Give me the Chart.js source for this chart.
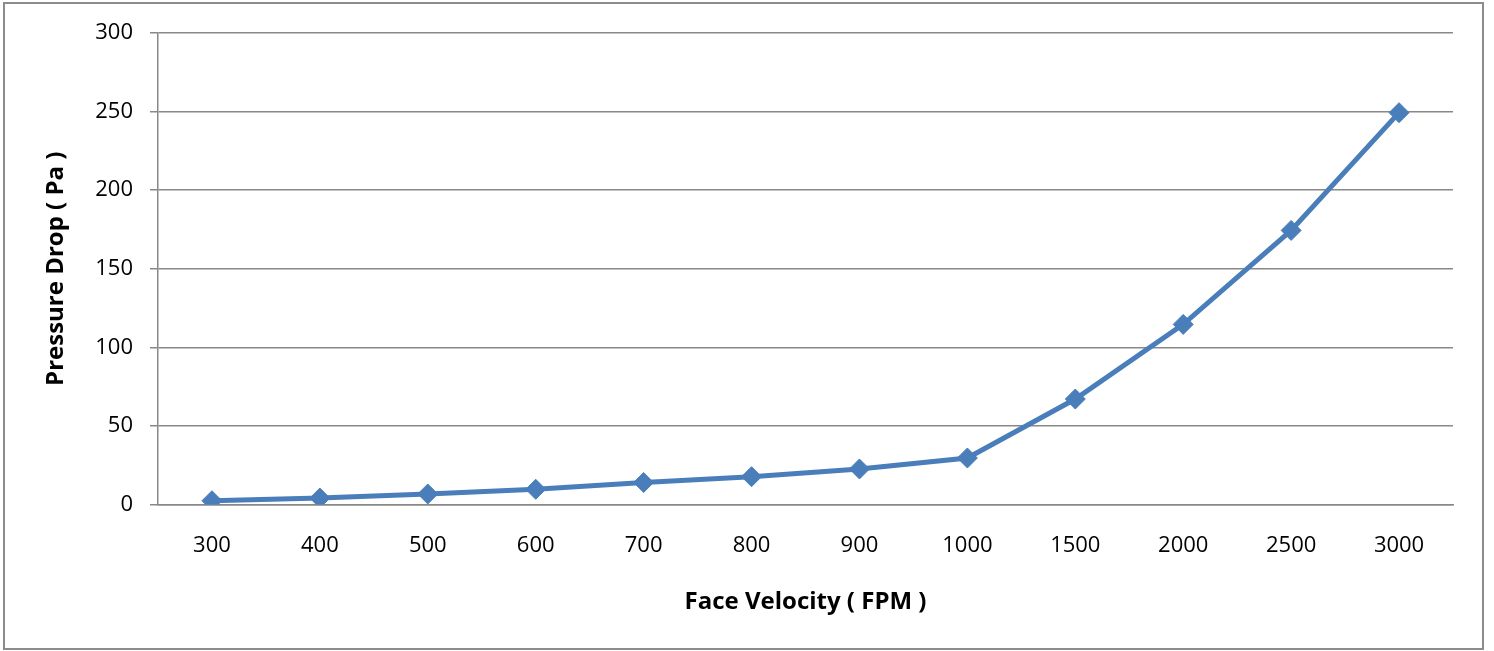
<!DOCTYPE html>
<html>
<head>
<meta charset="utf-8">
<script src="https://cdn.jsdelivr.net/npm/chart.js@4.4.1/dist/chart.umd.min.js"></script>
<style>
  html, body { margin: 0; padding: 0; background: #fff; }
  #wrap { width: 1494px; height: 651px; position: relative; }
</style>
</head>
<body>
<div id="wrap"><canvas id="c" width="1494" height="651"></canvas></div>
<script>
const categories = ['300','400','500','600','700','800','900','1000','1500','2000','2500','3000'];
const pressureDrop = [2.4, 4.1, 6.7, 9.7, 14.0, 17.7, 22.6, 29.6, 67.1, 114.6, 174.4, 249.3];
const yTitle = 'Pressure Drop ( Pa )';
const xTitle = 'Face Velocity ( FPM )';

const FONT = "'Open Sans', 'Liberation Sans', sans-serif";
const GRID = '#888888';

const borderPlugin = {
  id: 'frame',
  afterDraw(chart) {
    const ctx = chart.ctx;
    ctx.save();
    ctx.strokeStyle = '#8c8c8c';
    ctx.lineWidth = 2;
    ctx.strokeRect(4, 3, 1479, 646);
    ctx.restore();
  }
};

new Chart(document.getElementById('c'), {
  type: 'line',
  data: {
    labels: categories,
    datasets: [{
      data: pressureDrop,
      borderColor: '#4a7ebb',
      backgroundColor: '#4a7ebb',
      borderWidth: 5,
      pointStyle: 'rectRot',
      pointRadius: 10,
      pointHoverRadius: 10,
      pointBorderWidth: 1,
      pointBorderColor: '#4a7ebb',
      tension: 0
    }]
  },
  options: {
    responsive: false,
    animation: false,
    devicePixelRatio: 1,
    layout: { padding: { left: 0, top: 33, right: 41, bottom: 0 } },
    plugins: { legend: { display: false }, tooltip: { enabled: false } },
    scales: {
      x: {
        type: 'category',
        offset: true,
        grid: { display: false, drawTicks: false },
        border: { display: true, color: GRID, width: 1.5 },
        ticks: { color: '#000', font: { family: FONT, size: 22 }, padding: 28, maxRotation: 0, autoSkip: false },
        title: { display: true, text: xTitle, color: '#000', font: { family: FONT, size: 24, weight: 'bold' }, padding: { top: 0, bottom: 34 } },
        afterFit(s) { s.height = 146.5; }
      },
      y: {
        min: 0, max: 300,
        ticks: { stepSize: 50, color: '#000', font: { family: FONT, size: 22 }, padding: 17 },
        grid: { color: GRID, lineWidth: 1.5, tickLength: 8, drawTicks: true },
        border: { display: true, color: GRID, width: 1.5 },
        title: { display: true, text: yTitle, color: '#000', font: { family: FONT, size: 24, weight: 'bold' }, padding: { top: 42, bottom: 0 } },
        afterFit(s) { s.width = 158; }
      }
    }
  },
  plugins: [borderPlugin]
});
</script>
</body>
</html>
